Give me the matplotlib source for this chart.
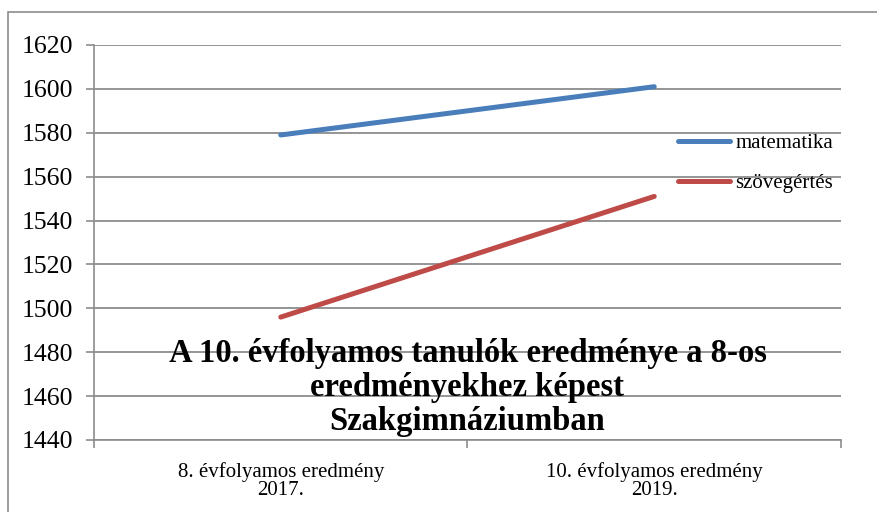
import matplotlib.pyplot as plt
from matplotlib.patches import Rectangle

categories = ['8. évfolyamos eredmény\n2017.', '10. évfolyamos eredmény\n2019.']
matematika = [1579, 1601]
szovegertes = [1496, 1551]
yticks = [1440, 1460, 1480, 1500, 1520, 1540, 1560, 1580, 1600, 1620]

plt.rcParams['font.family'] = ['Liberation Serif', 'DejaVu Serif']

fig = plt.figure(figsize=(8.78, 5.12), dpi=100)
fig.patches.append(Rectangle((8 / 878, -0.1), 1.0, 1 - 12 / 512 + 0.1, transform=fig.transFigure,
                             fill=False, edgecolor='#8c8c8c', linewidth=1.2))
ax = fig.add_axes([94 / 878, 1 - 440 / 512, (841 - 94) / 878, (440 - 45) / 512])

x = [0.5, 1.5]
ax.plot(x, matematika, color='#4a7ebb', linewidth=3.6, solid_capstyle='round', label='matematika', zorder=3)
ax.plot(x, szovegertes, color='#be4b48', linewidth=3.6, solid_capstyle='round', label='szövegértés', zorder=3)

ax.set_xlim(0, 2)
ax.set_ylim(1440, 1620)
ax.set_yticks(yticks)
ax.tick_params(axis='y', labelsize=18.5, length=6, color='#8c8c8c', width=1.2, pad=9)
ax.set_xticks([0, 1, 2])
ax.set_xticklabels([])
ax.set_xticks(x, minor=True)
ax.set_xticklabels(categories, minor=True, fontsize=15, linespacing=0.95)
ax.tick_params(axis='x', which='major', length=6, color='#8c8c8c', width=1.2, direction='out')
ax.tick_params(axis='x', which='minor', length=0, pad=16)
ax.grid(axis='y', color='#8c8c8c', linewidth=1.3)
ax.set_axisbelow(True)
for s in ['top', 'right']:
    ax.spines[s].set_visible(False)
for s in ['left', 'bottom']:
    ax.spines[s].set_color('#8c8c8c')
    ax.spines[s].set_linewidth(1.2)

ax.legend(loc='upper left', bbox_to_anchor=(0.782, 0.775), frameon=False, fontsize=15,
          handlelength=2.5, handletextpad=0.25, labelspacing=0.95, borderaxespad=0, borderpad=0)

ax.text(0.5, 0.132, 'A 10. évfolyamos tanulók eredménye a 8-os\neredményekhez képest\nSzakgimnáziumban',
        transform=ax.transAxes, ha='center', va='center', fontsize=23.5, fontweight='bold',
        linespacing=1.13, zorder=4)

fig.savefig('out.png', dpi=100)
